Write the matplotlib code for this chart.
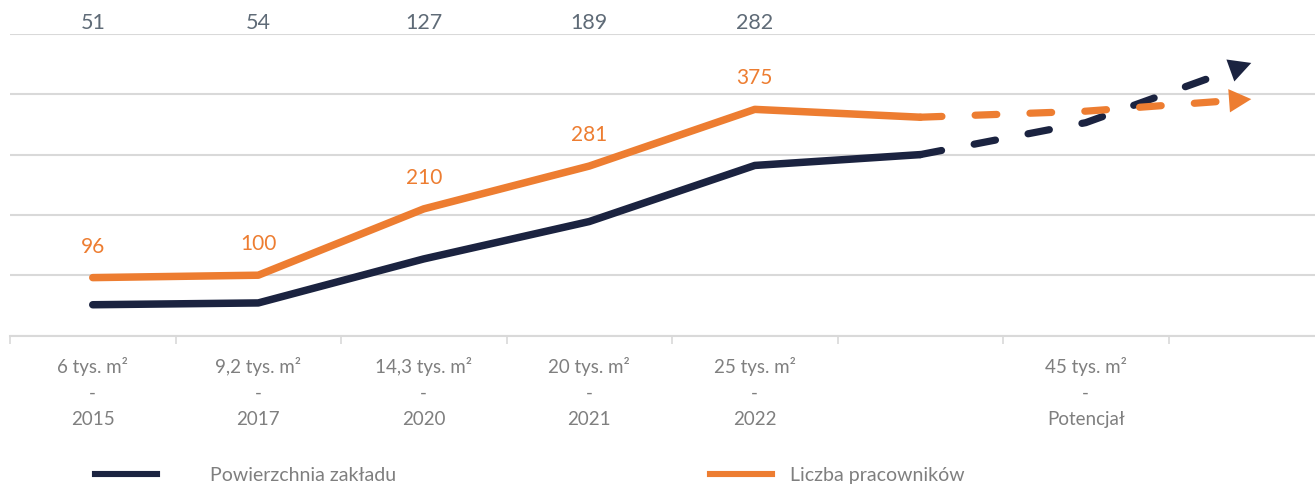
import matplotlib
matplotlib.use('Agg')
from matplotlib import pyplot as plt
from matplotlib.lines import Line2D

plt.rcParams['font.family'] = ['Lato', 'DejaVu Sans']

# data
area_labels = ['6 tys. m²', '9,2 tys. m²', '14,3 tys. m²', '20 tys. m²', '25 tys. m²', '', '45 tys. m²']
years = ['2015', '2017', '2020', '2021', '2022', '', 'Potencjał']
area = [51, 54, 127, 189, 282, 300]
employees = [96, 100, 210, 281, 375, 362]
labelled = 5  # first five points carry value labels

# dashed "potential" part, ends in an arrow
proj_x = [5, 6, 7]
area_proj = [300, 353, 452]
employees_proj = [362, 372, 392]

dark = '#1b2340'
orange = '#ed7d31'
grey = '#7f7f7f'
slate = '#5f6b77'

fig = plt.figure(figsize=(13.15, 4.85), dpi=100)
ax = fig.add_axes([10 / 1315, 1 - 336.5 / 485, 1 - 10 / 1315, (336.5 - 35) / 485])

x = list(range(len(area)))
ax.plot(x, area, c=dark, lw=5.4, solid_capstyle='round', solid_joinstyle='round', zorder=3)
ax.plot(x, employees, c=orange, lw=5.4, solid_capstyle='round', solid_joinstyle='round', zorder=3)


def dashed_arrow(xs, ys, color):
    # arrow head sits at the last point, dashed line stops at its base
    back = 0.135
    bx = xs[-1] - back * (xs[-1] - xs[-2])
    by = ys[-1] - back * (ys[-1] - ys[-2])
    ax.plot(xs[:-1] + [bx], ys[:-1] + [by], c=color, lw=5.2,
            dashes=(3.0, 4.6), dash_capstyle='round', zorder=3)
    ax.annotate('', xy=(xs[-1], ys[-1]), xytext=(bx, by),
                arrowprops=dict(arrowstyle='-|>,head_length=0.8,head_width=0.42',
                                color=color, lw=0, mutation_scale=20,
                                shrinkA=0, shrinkB=0), zorder=4)


dashed_arrow(proj_x, area_proj, dark)
dashed_arrow(proj_x, employees_proj, orange)

# value labels
for i in range(labelled):
    ax.annotate(str(employees[i]), (i, employees[i]), xytext=(0, 23), textcoords='offset points',
                ha='center', va='center', fontsize=15, color=orange)
    ax.annotate(str(area[i]), (i, 500), xytext=(0, 8.5), textcoords='offset points',
                ha='center', va='center', fontsize=15.5, color=slate, annotation_clip=False)

ax.set_ylim(0, 500)
ax.set_xlim(-0.5, 7.385)
ax.set_yticks([0, 100, 200, 300, 400, 500])
ax.grid(axis='y', color='#d9d9d9', lw=1.5)
ax.set_axisbelow(True)
ax.tick_params(axis='y', left=False, labelleft=False)

ticks = [a + '\n-\n' + y if a else '' for a, y in zip(area_labels, years)]
ax.set_xticks(range(len(ticks)))
ax.set_xticklabels(ticks, fontsize=13.5, color=grey, linespacing=1.62)
ax.tick_params(axis='x', which='major', length=0, pad=15)
ax.set_xticks([k - 0.5 for k in range(8)], minor=True)
ax.tick_params(axis='x', which='minor', length=6, width=1.2, color='#d9d9d9')

for s in ['top', 'right', 'left']:
    ax.spines[s].set_visible(False)
ax.spines['bottom'].set_color('#d9d9d9')
ax.spines['bottom'].set_linewidth(1.5)

# two separate legend entries, placed like the original
leg1 = fig.legend(handles=[Line2D([], [], c=dark, lw=4.4)], labels=['Powierzchnia zakładu'],
                  loc='center left', bbox_to_anchor=(95 / 1315, 1 - 476 / 485), frameon=False,
                  fontsize=14, handlelength=3.2, handletextpad=2.7, borderpad=0, borderaxespad=0,
                  labelcolor=grey)
leg2 = fig.legend(handles=[Line2D([], [], c=orange, lw=4.4)], labels=['Liczba pracowników'],
                  loc='center left', bbox_to_anchor=(710 / 1315, 1 - 476 / 485), frameon=False,
                  fontsize=14, handlelength=3.2, handletextpad=0.9, borderpad=0, borderaxespad=0,
                  labelcolor=grey)

plt.savefig('out.png', dpi=100)
